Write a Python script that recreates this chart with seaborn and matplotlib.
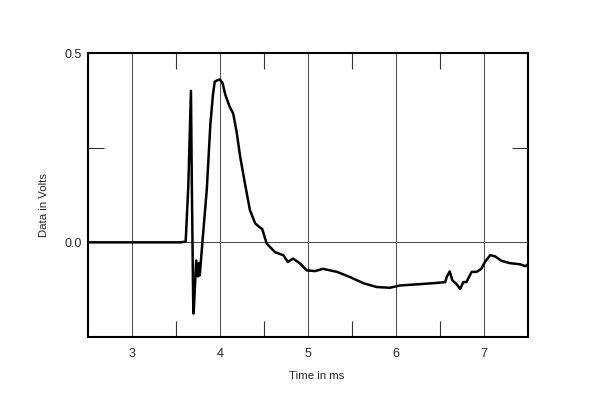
import matplotlib
matplotlib.use("Agg")
import matplotlib.pyplot as plt
import seaborn as sns
import pandas as pd
from matplotlib.ticker import FixedLocator

# Data
time_ms = [2.50, 2.80, 3.00, 3.30, 3.55, 3.61, 3.64, 3.67, 3.68, 3.695, 3.70,
           3.73, 3.75, 3.76, 3.77, 3.80, 3.85, 3.89, 3.92, 3.94, 3.97, 4.00,
           4.03, 4.06, 4.11, 4.15, 4.19, 4.23, 4.28, 4.34, 4.40, 4.45, 4.48, 4.53, 4.625,
           4.72, 4.77, 4.83, 4.91, 4.985, 5.08, 5.17, 5.33, 5.48, 5.63, 5.78,
           5.93, 6.045, 6.235, 6.42, 6.56, 6.575, 6.61, 6.64, 6.69, 6.73,
           6.765, 6.80, 6.82, 6.86, 6.915, 6.97, 7.01, 7.07, 7.125, 7.20,
           7.295, 7.41, 7.47, 7.50]
volts = [0.000, 0.000, 0.000, 0.000, 0.000, 0.002, 0.150, 0.400, 0.150, -0.150, -0.188,
         -0.048, -0.090, -0.055, -0.087, 0.000, 0.140, 0.310, 0.390, 0.424, 0.428, 0.430,
         0.420, 0.390, 0.358, 0.340, 0.290, 0.225, 0.160, 0.085, 0.050, 0.040, 0.035, -0.003, -0.026,
         -0.034, -0.052, -0.043, -0.056, -0.074, -0.076, -0.070, -0.078, -0.092, -0.108, -0.118,
         -0.120, -0.114, -0.111, -0.108, -0.105, -0.092, -0.077, -0.100, -0.111, -0.123,
         -0.105, -0.105, -0.096, -0.078, -0.078, -0.070, -0.052, -0.034, -0.037, -0.049,
         -0.055, -0.058, -0.063, -0.058]

x_major = [3, 4, 5, 6, 7]
x_minor = [3.5, 4.5, 5.5, 6.5]
y_major = [0.0, 0.5]
y_labels = ["0.0", "0.5"]
y_minor = [0.25]

sns.set_style("white")
plt.rcParams['font.family'] = ['Liberation Sans', 'DejaVu Sans']

fig = plt.figure(figsize=(6, 4.08), dpi=100)
ax = fig.add_axes([88/600, 1 - 337/408, 440/600, 284/408])

df = pd.DataFrame({"t": time_ms, "v": volts})
sns.lineplot(data=df, x="t", y="v", ax=ax, color="black", linewidth=1.8,
             estimator=None, sort=False)

ax.set_xlim(2.5, 7.5)
ax.set_ylim(-0.25, 0.5)

for xv in x_major:
    ax.axvline(xv, color="#555555", linewidth=0.8, zorder=0)
ax.axhline(0.0, color="#555555", linewidth=0.8, zorder=0)

ax.set_xticks(x_major)
ax.set_xticklabels([str(v) for v in x_major])
ax.xaxis.set_minor_locator(FixedLocator(x_minor))
ax.set_yticks(y_major)
ax.set_yticklabels(y_labels)
ax.yaxis.set_minor_locator(FixedLocator(y_minor))

ax.tick_params(axis="x", which="major", length=0, labelsize=9, pad=8)
ax.tick_params(axis="y", which="major", length=0, labelsize=9, pad=4.5)
ax.tick_params(axis="x", which="minor", direction="in", length=11.5, width=0.8,
               color="#333333", top=True, bottom=True)
ax.tick_params(axis="y", which="minor", direction="in", length=11.5, width=0.8,
               color="#333333", left=True, right=True)

for s in ax.spines.values():
    s.set_visible(True)
    s.set_color("black")
    s.set_linewidth(1.5)

ax.set_xlabel("Time in ms", fontsize=8.2, va="center")
ax.set_ylabel("Data in Volts", fontsize=8.2, va="center")
ax.xaxis.set_label_coords((317 - 88) / 440, (337 - 376) / 284)
ax.yaxis.set_label_coords((44 - 88) / 440, (337 - 205) / 284)

fig.savefig("out.png", dpi=100, facecolor="white")
